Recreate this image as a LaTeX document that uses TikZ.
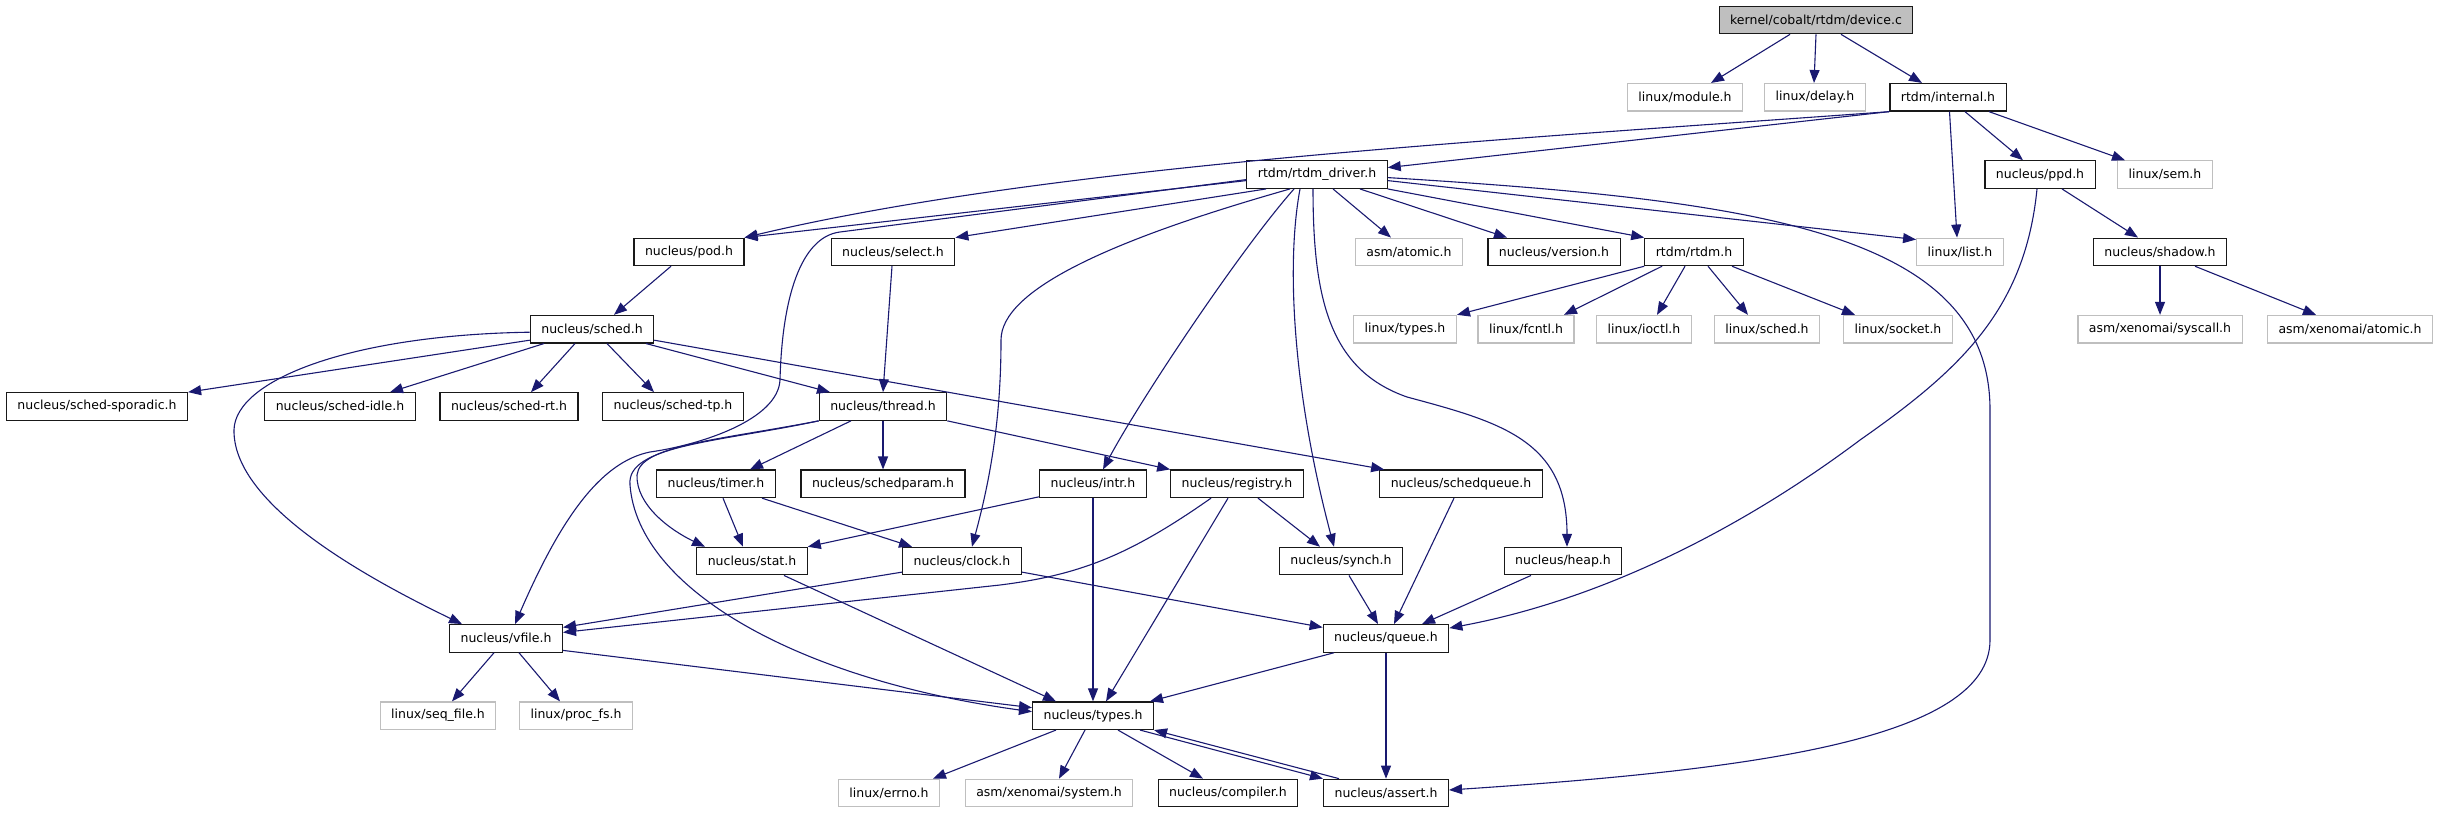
\documentclass[tikz,border=0pt]{standalone}
\usepackage{fontspec}
\setmainfont{DejaVu Sans}
\usetikzlibrary{arrows.meta}
\definecolor{edgecol}{RGB}{25,25,112}
\definecolor{greyline}{RGB}{191,191,191}
\definecolor{rootfill}{RGB}{191,191,191}
\tikzset{
  box/.style={draw=black!90, fill=white, line width=1.2pt, minimum height=27.5pt,
    inner xsep=11pt, inner ysep=0pt, font=\fontsize{12.5}{14}\selectfont},
  gbox/.style={box, draw=greyline},
  rootbox/.style={box, fill=rootfill},
  dep/.style={draw=edgecol, line width=1.1pt, -{Triangle[length=13pt,width=10pt]}, fill=none},
}
\begin{document}
\begin{tikzpicture}[x=1pt,y=-1pt]
\path[use as bounding box] (0,0) rectangle (2440,813);
% row 0
\node[rootbox] (dev) at (1816,20) {kernel/cobalt/rtdm/device.c};
% row 1
\node[gbox] (module) at (1685,97.3) {linux/module.h};
\node[gbox] (delay) at (1815,97.3) {linux/delay.h};
\node[box] (internal) at (1948,97.3) {rtdm/internal.h};
% row 2
\node[box] (rtdmdrv) at (1317,174.6) {rtdm/rtdm\_driver.h};
\node[box] (ppd) at (2040,174.6) {nucleus/ppd.h};
\node[gbox] (sem) at (2165,174.6) {linux/sem.h};
% row 3
\node[box] (pod) at (689,251.9) {nucleus/pod.h};
\node[box] (select) at (893,251.9) {nucleus/select.h};
\node[gbox] (asmatomic) at (1409,251.9) {asm/atomic.h};
\node[box] (version) at (1554,251.9) {nucleus/version.h};
\node[box] (rtdm) at (1694,251.9) {rtdm/rtdm.h};
\node[gbox] (list) at (1960,251.9) {linux/list.h};
\node[box] (shadow) at (2160,251.9) {nucleus/shadow.h};
% row 4
\node[box] (sched) at (592,329.2) {nucleus/sched.h};
\node[gbox] (ltypes) at (1405,329.2) {linux/types.h};
\node[gbox] (fcntl) at (1526,329.2) {linux/fcntl.h};
\node[gbox] (ioctl) at (1644,329.2) {linux/ioctl.h};
\node[gbox] (lsched) at (1767,329.2) {linux/sched.h};
\node[gbox] (socket) at (1898,329.2) {linux/socket.h};
\node[gbox] (syscall) at (2160,329.2) {asm/xenomai/syscall.h};
\node[gbox] (xatomic) at (2350,329.2) {asm/xenomai/atomic.h};
% row 5
\node[box] (sporadic) at (97,406.5) {nucleus/sched-sporadic.h};
\node[box] (idle) at (340,406.5) {nucleus/sched-idle.h};
\node[box] (rt) at (509,406.5) {nucleus/sched-rt.h};
\node[box] (tp) at (673,406.5) {nucleus/sched-tp.h};
\node[box] (thread) at (883,406.5) {nucleus/thread.h};
% row 6
\node[box] (timer) at (716,483.8) {nucleus/timer.h};
\node[box] (schedparam) at (883,483.8) {nucleus/schedparam.h};
\node[box] (intr) at (1093,483.8) {nucleus/intr.h};
\node[box] (registry) at (1237,483.8) {nucleus/registry.h};
\node[box] (schedqueue) at (1461,483.8) {nucleus/schedqueue.h};
% row 7
\node[box] (stat) at (752,561.1) {nucleus/stat.h};
\node[box] (clock) at (962,561.1) {nucleus/clock.h};
\node[box] (synch) at (1341,561.1) {nucleus/synch.h};
\node[box] (heap) at (1563,561.1) {nucleus/heap.h};
% row 8
\node[box] (vfile) at (506,638.4) {nucleus/vfile.h};
\node[box] (queue) at (1386,638.4) {nucleus/queue.h};
% row 9
\node[gbox] (seqfile) at (438,715.7) {linux/seq\_file.h};
\node[gbox] (procfs) at (576,715.7) {linux/proc\_fs.h};
\node[box] (ntypes) at (1093,715.7) {nucleus/types.h};
% row 10
\node[gbox] (errno) at (889,793) {linux/errno.h};
\node[gbox] (system) at (1049,793) {asm/xenomai/system.h};
\node[box] (compiler) at (1228,793) {nucleus/compiler.h};
\node[box] (assert) at (1386,793) {nucleus/assert.h};

% device.c
\draw[dep] ([xshift=-26pt]dev.south) -- ([xshift=26pt]module.north);
\draw[dep] (dev.south) -- ([xshift=-1pt]delay.north);
\draw[dep] ([xshift=25pt]dev.south) -- ([xshift=-26pt]internal.north);
% internal.h
\draw[dep] (internal.south west) -- ([yshift=7pt]rtdmdrv.east);
\draw[dep] (internal.south west) .. controls (1500,140) and (1050,165) .. (pod.north east);
\draw[dep] ([xshift=1.5pt]internal.south) -- ([xshift=-3pt]list.north);
\draw[dep] ([xshift=17pt]internal.south) -- ([xshift=-17pt]ppd.north);
\draw[dep] ([xshift=41pt]internal.south) -- ([xshift=-40pt]sem.north);
% rtdm_driver.h
\draw[dep] ([yshift=-6pt]rtdmdrv.west) -- (pod.north east);
\draw[dep] ([yshift=-5pt]rtdmdrv.west) -- (840,232) .. controls (800,237) and (782,300) .. (780,380)
   .. controls (778,420) and (700,445) .. (650,452) .. controls (600,462) and (560,520) .. ([xshift=9pt]vfile.north);
\draw[dep] ([xshift=-51pt]rtdmdrv.south) -- (select.north east);
\draw[dep] ([xshift=-27pt]rtdmdrv.south) .. controls (1110,240) and (1001,290) .. (1001,340)
   .. controls (1001,420) and (990,480) .. ([xshift=10pt]clock.north);
\draw[dep] ([xshift=-23pt]rtdmdrv.south) .. controls (1240,250) and (1140,400) .. ([xshift=10pt]intr.north);
\draw[dep] ([xshift=-17pt]rtdmdrv.south) .. controls (1285,270) and (1295,400) .. ([xshift=-7pt]synch.north);
\draw[dep] ([xshift=-4pt]rtdmdrv.south) .. controls (1313,300) and (1330,370) .. (1407,397)
   .. controls (1500,422) and (1567,440) .. ([xshift=4pt]heap.north);
\draw[dep] ([xshift=16pt]rtdmdrv.south) -- ([xshift=-18pt]asmatomic.north);
\draw[dep] ([xshift=43pt]rtdmdrv.south) -- ([xshift=-47pt]version.north);
\draw[dep] (rtdmdrv.south east) -- (rtdm.north west);
\draw[dep] ([yshift=-6pt]rtdmdrv.east) -- ([yshift=-2pt]list.north west);
\draw[dep] ([yshift=-3pt]rtdmdrv.east) .. controls (1750,200) and (1990,230) .. (1990,410) -- (1990,640)
   .. controls (1990,740) and (1750,770) .. ([yshift=3pt]assert.east);
% ppd.h, shadow.h
\draw[dep] ([xshift=-3pt]ppd.south) .. controls (2025,310) and (1960,370) .. (1860,440)
   .. controls (1740,530) and (1600,600) .. ([yshift=-4pt]queue.north east);
\draw[dep] ([xshift=22pt]ppd.south) -- ([xshift=-22pt]shadow.north);
\draw[dep] (shadow.south) -- (syscall.north);
\draw[dep] ([xshift=35pt]shadow.south) -- ([xshift=-34pt]xatomic.north);
% rtdm.h
\draw[dep] (rtdm.south west) -- (ltypes.north east);
\draw[dep] ([xshift=-32pt]rtdm.south) -- ([xshift=38pt]fcntl.north);
\draw[dep] ([xshift=-9pt]rtdm.south) -- ([xshift=13pt]ioctl.north);
\draw[dep] ([xshift=14pt]rtdm.south) -- ([xshift=-19pt]lsched.north);
\draw[dep] ([xshift=38pt]rtdm.south) -- ([xshift=-43pt]socket.north);
% pod.h, select.h
\draw[dep] ([xshift=-18pt]pod.south) -- ([xshift=22pt]sched.north);
\draw[dep] ([xshift=-1pt]select.south) -- (thread.north);
% sched.h
\draw[dep] ([yshift=-11pt]sched.west) -- (sporadic.north east);
\draw[dep] ([xshift=-48pt]sched.south) -- ([xshift=50pt]idle.north);
\draw[dep] ([xshift=-17pt]sched.south) -- ([xshift=22pt]rt.north);
\draw[dep] ([xshift=15pt]sched.south) -- ([xshift=-19pt]tp.north);
\draw[dep] ([xshift=54pt]sched.south) -- ([xshift=-53pt]thread.north);
\draw[dep] ([yshift=-11pt]sched.east) -- ([xshift=5pt]schedqueue.north west);
\draw[dep] ([yshift=-3pt]sched.west) .. controls (350,335) and (235,380) .. (234,430)
   .. controls (233,500) and (350,570) .. ([xshift=-44pt]vfile.north);
% thread.h
\draw[dep] ([xshift=-32pt]thread.south) -- ([xshift=34pt]timer.north);
\draw[dep] (thread.south) -- (schedparam.north);
\draw[dep] (thread.south east) -- (registry.north west);
\draw[dep] (thread.south west) .. controls (720,440) and (640,445) .. (637,475)
   .. controls (636,505) and (670,530) .. ([xshift=-47pt]stat.north);
\draw[dep] (thread.south west) .. controls (720,442) and (626,445) .. (630,485)
   .. controls (638,590) and (800,680) .. ([yshift=4pt]ntypes.west);
% timer.h, intr.h, registry.h
\draw[dep] ([xshift=7pt]timer.south) -- ([xshift=-9pt]stat.north);
\draw[dep] ([xshift=46pt]timer.south) -- ([xshift=-50pt]clock.north);
\draw[dep] ([yshift=-13pt]intr.west) -- (stat.north east);
\draw[dep] (intr.south) -- (ntypes.north);
\draw[dep] ([xshift=-26pt]registry.south) .. controls (1130,555) and (1080,575) .. (1000,585) -- ([yshift=6pt]vfile.east);
\draw[dep] ([xshift=21pt]registry.south) -- ([xshift=-21pt]synch.north);
\draw[dep] ([xshift=-9pt]registry.south) -- ([xshift=13pt]ntypes.north);
\draw[dep] ([xshift=-7pt]schedqueue.south) -- ([xshift=8pt]queue.north);
% row 7
\draw[dep] ([yshift=-11pt]clock.west) -- ([yshift=11pt]vfile.east);
\draw[dep] ([yshift=-11pt]clock.east) -- ([yshift=11pt]queue.west);
\draw[dep] ([xshift=8pt]synch.south) -- ([xshift=-8pt]queue.north);
\draw[dep] ([xshift=-32pt]heap.south) -- ([xshift=36pt]queue.north);
\draw[dep] ([xshift=32pt]stat.south) -- ([xshift=-37pt]ntypes.north);
% row 8
\draw[dep] ([yshift=-12pt]vfile.east) -- ([yshift=8pt]ntypes.west);
\draw[dep] ([xshift=-12pt]vfile.south) -- ([xshift=14pt]seqfile.north);
\draw[dep] ([xshift=13pt]vfile.south) -- ([xshift=-16pt]procfs.north);
\draw[dep] ([xshift=-52pt]queue.south) -- ([xshift=57pt]ntypes.north);
\draw[dep] (queue.south) -- (assert.north);
% types.h, assert.h
\draw[dep] ([xshift=-37pt]ntypes.south) -- ([xshift=44pt]errno.north);
\draw[dep] ([xshift=-8pt]ntypes.south) -- ([xshift=10pt]system.north);
\draw[dep] ([xshift=25pt]ntypes.south) -- ([xshift=-25pt]compiler.north);
\draw[dep] ([xshift=47pt]ntypes.south) -- (assert.north west);
\draw[dep] ([xshift=-47pt]assert.north) -- (ntypes.south east);
\end{tikzpicture}
\end{document}
